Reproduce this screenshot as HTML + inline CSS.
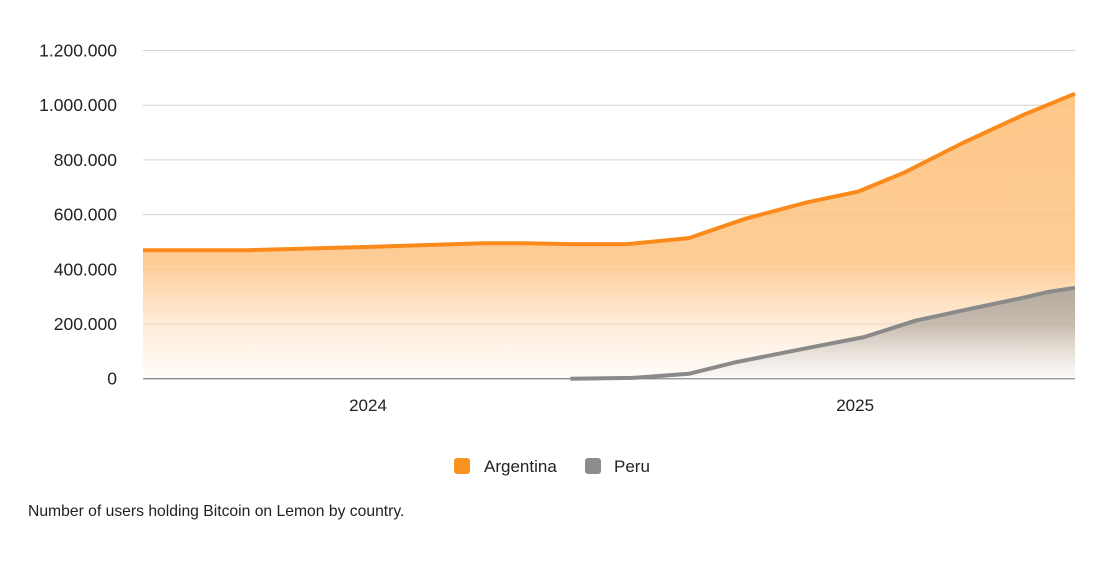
<!DOCTYPE html>
<html><head><meta charset="utf-8">
<style>
body{margin:0;background:#fff;font-family:"Liberation Sans",sans-serif;}
svg text{font-family:"Liberation Sans",sans-serif;}
</style></head><body>
<svg width="1110" height="556" viewBox="0 0 1110 556">
<defs>
<linearGradient id="gArg" gradientUnits="userSpaceOnUse" x1="0" y1="90" x2="0" y2="379">
<stop offset="0" stop-color="#fdbd72" stop-opacity="0.85"/>
<stop offset="0.6" stop-color="#fdc384" stop-opacity="0.85"/>
<stop offset="1" stop-color="#fff3e6" stop-opacity="0.3"/>
</linearGradient>
<linearGradient id="gPer" gradientUnits="userSpaceOnUse" x1="0" y1="290" x2="0" y2="379">
<stop offset="0" stop-color="#a8a29a" stop-opacity="0.85"/>
<stop offset="0.4" stop-color="#b4aca2" stop-opacity="0.75"/>
<stop offset="1" stop-color="#f0f0f0" stop-opacity="0.3"/>
</linearGradient>
</defs>
<g id="grid"></g>
<g id="series"></g>
<g id="labels"></g>
<g>
<g>
<rect x="454" y="458" width="16" height="16" rx="3" fill="#f7931e"/>
<text x="484" y="472" font-size="17" fill="#222">Argentina</text></g>
<g>
<rect x="585" y="458" width="16" height="16" rx="3" fill="#8c8c8c"/>
<text x="614" y="472" font-size="17" fill="#222">Peru</text></g>
</g>
<text x="28" y="516" font-size="15.7" fill="#222">Number of users holding Bitcoin on Lemon by country.</text>
</svg>
<script>
const yTicks=[0,200000,400000,600000,800000,1000000,1200000];
const yTickLabels=["0","200.000","400.000","600.000","800.000","1.000.000","1.200.000"];
const xYears=[2024,2025];
const xYearPos=[4.37,13.83];
const argT=[0,2,4.4,6.6,7.4,8.3,9.4,10.6,11.7,12.9,13.9,14.8,15.9,17.1,18.1];
const argV=[470000,470000,482000,495000,495000,492000,492000,514000,585000,645000,685000,755000,860000,965000,1042000];
const perT=[8.3,9.5,10.6,11.5,12.9,14,15,16.1,17,17.6,18.1];
const perV=[0,3000,18000,60000,112000,152000,212000,257000,292000,318000,332000];
const x0=143,x1=1075,tMax=18.1;
const X=t=>x0+(x1-x0)*t/tMax;
const Y=v=>378.7-v*(328.2/1200000);
const NS="http://www.w3.org/2000/svg";
const grid=document.getElementById('grid'),lab=document.getElementById('labels'),ser=document.getElementById('series');
yTicks.forEach((v,i)=>{
 const l=document.createElementNS(NS,'line');
 l.setAttribute('x1',x0);l.setAttribute('x2',x1);l.setAttribute('y1',Y(v));l.setAttribute('y2',Y(v));
 l.setAttribute('stroke',i==0?'#444':'#d6d0cb');l.setAttribute('stroke-width','1');
 
 
 grid.appendChild(l);
 const t=document.createElementNS(NS,'text');
 t.setAttribute('x',117);t.setAttribute('y',Y(v)+6);t.setAttribute('text-anchor','end');
 t.setAttribute('font-size','17.5');t.setAttribute('fill','#222');t.textContent=yTickLabels[i];
 
 
 lab.appendChild(t);
});
xYears.forEach((y,i)=>{
 const t=document.createElementNS(NS,'text');
 t.setAttribute('x',X(xYearPos[i]));t.setAttribute('y',411);t.setAttribute('text-anchor','middle');
 t.setAttribute('font-size','17');t.setAttribute('fill','#222');t.textContent=y;
 
 
 lab.appendChild(t);
});
function draw(T,V,fill,stroke,name){
 const pts=T.map((t,i)=>X(t).toFixed(1)+','+Y(V[i]).toFixed(1));
 const a=document.createElementNS(NS,'path');
 a.setAttribute('d','M'+X(T[0])+','+Y(0)+' L'+pts.join(' L')+' L'+X(T[T.length-1])+','+Y(0)+'Z');
 a.setAttribute('fill',fill);
 
 
 ser.appendChild(a);
 const l=document.createElementNS(NS,'path');
 l.setAttribute('d','M'+pts.join(' L'));l.setAttribute('fill','none');
 l.setAttribute('stroke',stroke);l.setAttribute('stroke-width','4');l.setAttribute('stroke-linejoin','round');
 
 
 ser.appendChild(l);
}
draw(argT,argV,'url(#gArg)','#fb8a1c','argentina');
draw(perT,perV,'url(#gPer)','#8a8a8a','peru');
</script>
</body></html>
